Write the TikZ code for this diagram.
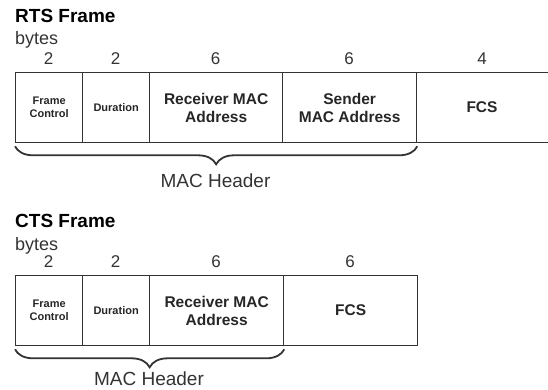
\documentclass[tikz,border=0pt]{standalone}
\usepackage{fontspec}
\setmainfont{Liberation Sans}
\usetikzlibrary{decorations.pathreplacing}
\definecolor{ink}{HTML}{333333}
\begin{document}
\begin{tikzpicture}[x=1pt,y=-1pt,
  field/.style={draw=ink,line width=1.3pt,minimum height=70pt,inner sep=0pt,
                anchor=north west,align=center,text=black!85,
                font=\bfseries\fontsize{15.5}{18}\selectfont},
  smallfield/.style={field,font=\bfseries\fontsize{11}{13}\selectfont},
  title/.style={anchor=base west,inner sep=0pt,font=\bfseries\fontsize{19}{21}\selectfont},
  unit/.style={anchor=base west,inner sep=0pt,font=\fontsize{18}{20}\selectfont,text=ink},
  count/.style={anchor=base,inner sep=0pt,font=\fontsize{17}{19}\selectfont,text=ink},
  hdr/.style={anchor=base,inner sep=0pt,font=\fontsize{19}{21}\selectfont,text=ink},
  hbrace/.style={draw=ink,line width=1.8pt,decorate,
                 decoration={brace,mirror,amplitude=18pt}}]
\useasboundingbox (0,0) rectangle (548,390);

% ---------- RTS frame ----------
\node[title] (rtstitle) at (15,23) {RTS Frame};
\node[unit] (rtsunit) at (15,45) {bytes};
\node[smallfield,minimum width=67pt] (rfc) at (15,72) {Frame\\Control};
\node[smallfield,minimum width=67pt] (rdur) at (82,72) {Duration};
\node[field,minimum width=133pt] (rrecv) at (149,72) {Receiver MAC\\Address};
\node[field,minimum width=134pt] (rsend) at (282,72) {Sender\\MAC Address};
\node[field,minimum width=150pt] (rfcs) at (416,72) {};
\node[text=black!85,font=\bfseries\fontsize{15.5}{18}\selectfont] (rfcstext) at (482,107) {FCS};
\node[count] (rn1) at (48.5,65) {2};
\node[count] (rn2) at (115.5,65) {2};
\node[count] (rn3) at (215.5,65) {6};
\node[count] (rn4) at (349,65) {6};
\node[count] (rn5) at (482,65) {4};
\draw[hbrace] ([yshift=-3pt]rfc.south west) -- ([yshift=-3pt]rsend.south east);
\node[hdr] (rhdr) at (215.5,187) {MAC Header};

% ---------- CTS frame ----------
\node[title] (ctstitle) at (15,227) {CTS Frame};
\node[unit] (ctsunit) at (15,250) {bytes};
\node[smallfield,minimum width=67pt] (cfc) at (15,275) {Frame\\Control};
\node[smallfield,minimum width=67pt] (cdur) at (82,275) {Duration};
\node[field,minimum width=134pt] (crecv) at (149,275) {Receiver MAC\\Address};
\node[field,minimum width=134pt] (cfcs) at (283,275) {FCS};
\node[count] (cn1) at (48.5,267) {2};
\node[count] (cn2) at (115.5,267) {2};
\node[count] (cn3) at (216,267) {6};
\node[count] (cn4) at (350,267) {6};
\draw[hbrace] ([yshift=-3pt]cfc.south west) -- ([yshift=-3pt]crecv.south east);
\node[hdr] (chdr) at (149,385) {MAC Header};
\end{tikzpicture}
\end{document}
